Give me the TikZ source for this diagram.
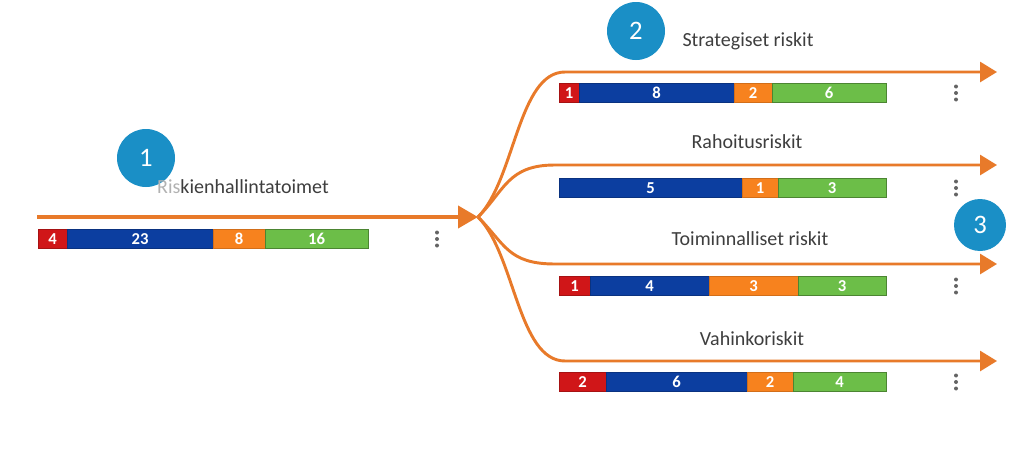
\documentclass[tikz,border=0pt]{standalone}
\usepackage{fontspec}
\setmainfont{Carlito}
\usetikzlibrary{arrows.meta}
\definecolor{lineor}{RGB}{232,122,42}
\definecolor{segred}{RGB}{208,22,24}
\definecolor{segblue}{RGB}{12,62,160}
\definecolor{segor}{RGB}{247,130,30}
\definecolor{seggreen}{RGB}{108,190,72}
\definecolor{badge}{RGB}{26,143,198}
\definecolor{txt}{RGB}{62,62,62}
\definecolor{dotc}{RGB}{100,100,100}
\begin{document}
\begin{tikzpicture}[x=0.75pt,y=-0.75pt,
  flowmain/.style={draw=lineor, line width=3pt, -{Triangle[length=15pt,width=16.5pt]}},
  flow/.style={draw=lineor, line width=2.2pt, -{Triangle[length=12.75pt,width=15pt]}},
  seg/.style={anchor=west, minimum height=19*0.75pt, inner sep=0pt, outer sep=0pt,
              text=white, font=\bfseries\fontsize{12.5}{12.5}\selectfont, line width=0.5pt},
  segw/.style={minimum width=#1*0.75pt},
  sr/.style={seg, fill=segred, draw=segred!80!black},
  sb/.style={seg, fill=segblue, draw=segblue!80!black},
  so/.style={seg, fill=segor, draw=segor!85!black},
  sg/.style={seg, fill=seggreen, draw=seggreen!70!black},
  title/.style={anchor=base, inner sep=0pt, text=txt, font=\fontsize{15}{18}\selectfont},
  badgen/.style={circle, fill=badge, inner sep=0pt, text=white, font=\fontsize{20}{20}\selectfont},
  vdot/.style={circle, fill=dotc, minimum size=4*0.75pt, inner sep=0pt}
]
\path[fill=white, use as bounding box] (0,0) rectangle (1011,471);

% main flow
\coordinate (s0) at (37,217);
\coordinate (br) at (478,217);
\draw[flowmain] (s0) -- (br);

% branches
\coordinate (e1) at (997,72);
\coordinate (e2) at (997,165);
\coordinate (e3) at (997,264);
\coordinate (e4) at (997,361);
\draw[flow] (br) .. controls (515,180) and (518,72) .. (565,72) -- (e1);
\draw[flow] (br) .. controls (505,190) and (508,165) .. (555,165) -- (e2);
\draw[flow] (br) .. controls (505,244) and (508,264) .. (555,264) -- (e3);
\draw[flow] (br) .. controls (515,254) and (518,361) .. (565,361) -- (e4);

% badge 1 and main title
\node[badgen, minimum size=58*0.75pt] (b1) at (146,158) {1};
\node[title] (t0) at (243,193) {{\color{txt!40}Ris}kienhallintatoimet};

% left bar
\node[sr, segw=29]  (a1) at (38,239) {4};
\node[sb, segw=146] (a2) at (a1.east) {23};
\node[so, segw=52]  (a3) at (a2.east) {8};
\node[sg, segw=103] (a4) at (a3.east) {16};

% titles right
\node[badgen, minimum size=58*0.75pt] (b2) at (636,31) {2};
\node[title] (t1) at (748,46) {Strategiset riskit};
\node[title] (t2) at (747,148) {Rahoitusriskit};
\node[title] (t3) at (750,245) {Toiminnalliset riskit};
\node[title] (t4) at (752,345) {Vahinkoriskit};

% bar 1
\node[sr, segw=20]  (p1) at (559,93) {1};
\node[sb, segw=155] (p2) at (p1.east) {8};
\node[so, segw=38]  (p3) at (p2.east) {2};
\node[sg, segw=114] (p4) at (p3.east) {6};

% bar 2
\node[sb, segw=183] (q1) at (559,188) {5};
\node[so, segw=36]  (q2) at (q1.east) {1};
\node[sg, segw=108] (q3) at (q2.east) {3};

% bar 3
\node[sr, segw=31]  (r1) at (559,286) {1};
\node[sb, segw=119] (r2) at (r1.east) {4};
\node[so, segw=89]  (r3) at (r2.east) {3};
\node[sg, segw=88]  (r4) at (r3.east) {3};

% bar 4
\node[sr, segw=47]  (u1) at (559,382) {2};
\node[sb, segw=141] (u2) at (u1.east) {6};
\node[so, segw=46]  (u3) at (u2.east) {2};
\node[sg, segw=93]  (u4) at (u3.east) {4};

% vertical dots
\foreach \x/\y/\n in {437/239/0, 956/93/1, 956/188/2, 956/286/3, 956/382/4}{
  \foreach \d/\k in {-6.5/a,0/b,6.5/c}{
    \node[vdot] (v\n\k) at (\x,\y+\d) {};
  }
}

% badge 3
\node[badgen, minimum size=52*0.75pt] (b3) at (980,225) {3};
\end{tikzpicture}
\end{document}
